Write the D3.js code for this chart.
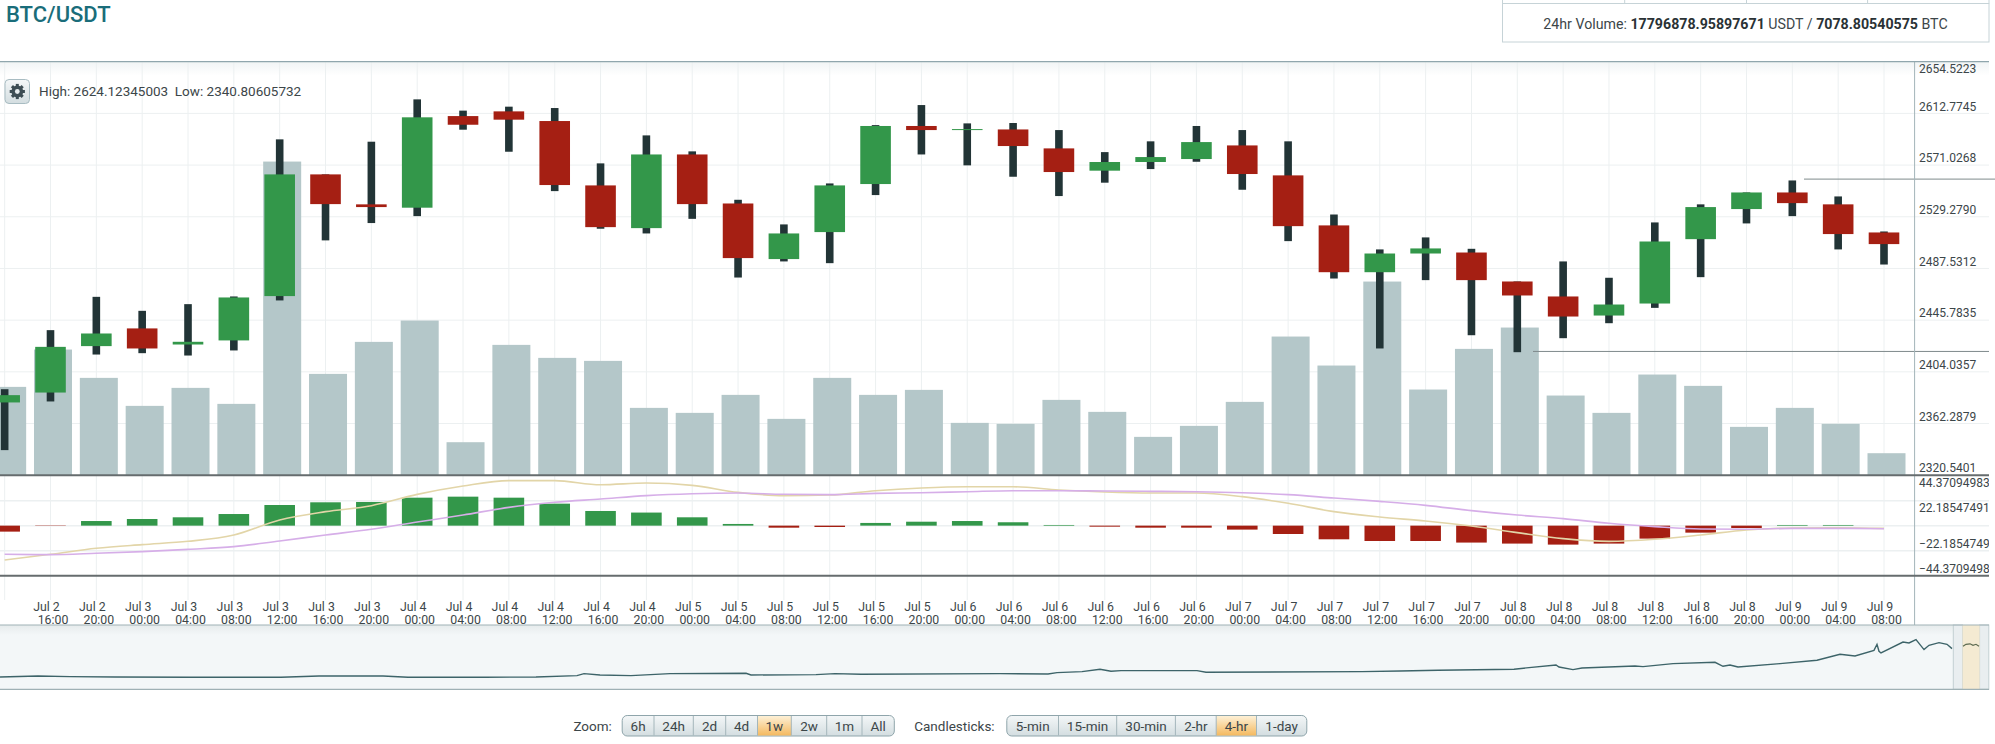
<!DOCTYPE html>
<html>
<head>
<meta charset="utf-8">
<title>BTC/USDT</title>
<script src="https://cdn.jsdelivr.net/npm/d3@7"></script>
<style>
    html, body { margin: 0; padding: 0; background: #fff; overflow: hidden; }
    text { font-family: Roboto, sans-serif; fill: #3c4649; }
    .tick text { font-family: Roboto, sans-serif; fill: #3c4649; }
</style>
</head>
<body>
<div id="chart"></div>
<script>
// candles, one every 4 hours, first one is cut off by the left edge
const days = ["Jul 2","Jul 2","Jul 2",
    "Jul 3","Jul 3","Jul 3","Jul 3","Jul 3","Jul 3",
    "Jul 4","Jul 4","Jul 4","Jul 4","Jul 4","Jul 4",
    "Jul 5","Jul 5","Jul 5","Jul 5","Jul 5","Jul 5",
    "Jul 6","Jul 6","Jul 6","Jul 6","Jul 6","Jul 6",
    "Jul 7","Jul 7","Jul 7","Jul 7","Jul 7","Jul 7",
    "Jul 8","Jul 8","Jul 8","Jul 8","Jul 8","Jul 8",
    "Jul 9","Jul 9","Jul 9"];
const hours = ["12:00","16:00","20:00",
    "00:00","04:00","08:00","12:00","16:00","20:00",
    "00:00","04:00","08:00","12:00","16:00","20:00",
    "00:00","04:00","08:00","12:00","16:00","20:00",
    "00:00","04:00","08:00","12:00","16:00","20:00",
    "00:00","04:00","08:00","12:00","16:00","20:00",
    "00:00","04:00","08:00","12:00","16:00","20:00",
    "00:00","04:00","08:00"];

const opens = [2379.3,2387.3,2424.8,2439.1,2426.1,2429.4,2465.2,2563.5,2539.3,2536.6,2610.6,2614.4,2606.6,2554.6,2520.1,
    2579.6,2540.0,2495.1,2516.9,2555.7,2602.6,2599.3,2599.8,2584.5,2566.5,2573.5,2575.9,2586.9,2562.7,2522.3,2484.5,
    2499.6,2500.4,2477.0,2464.9,2449.5,2459.2,2511.2,2535.5,2548.9,2539.3,2516.6];
const closes = [2385.2,2424.2,2435.0,2422.9,2428.3,2464.1,2563.5,2539.5,2537.1,2609.6,2603.6,2607.7,2554.9,2520.9,2579.6,
    2539.5,2495.9,2515.8,2554.6,2602.6,2599.3,2600.1,2586.4,2565.4,2573.5,2577.5,2589.6,2563.8,2521.7,2484.5,2499.6,
    2503.7,2478.1,2465.7,2448.7,2458.4,2509.3,2537.1,2548.9,2540.3,2515.3,2507.2];
const highs = [2390.0,2437.7,2464.6,2453.3,2458.7,2464.9,2591.8,2563.5,2589.9,2624.1,2615.0,2618.2,2617.1,2572.4,2595.0,
    2582.1,2543.0,2523.1,2556.2,2603.3,2619.5,2604.7,2605.0,2599.3,2581.5,2590.2,2602.6,2599.3,2590.2,2531.1,2502.9,
    2512.6,2503.4,2477.0,2493.2,2480.0,2524.7,2539.3,2548.9,2558.6,2545.7,2517.4];
const lows = [2340.8,2380.1,2418.0,2419.1,2417.2,2421.3,2461.7,2510.2,2524.2,2529.8,2599.6,2581.8,2550.0,2519.6,2515.8,
    2527.6,2480.2,2493.2,2491.8,2546.8,2579.6,2570.8,2561.6,2546.0,2556.8,2567.8,2573.7,2551.1,2509.6,2479.4,2422.9,
    2478.1,2433.6,2419.9,2431.2,2443.3,2455.7,2480.5,2523.9,2529.8,2502.9,2490.7];
const volumes = [26.5,37.7,29.2,20.8,26.2,21.4,94.1,30.4,40.0,46.4,9.9,39.1,35.2,34.3,20.2,
    18.7,24.1,16.9,29.2,24.1,25.6,15.7,15.4,22.6,19.0,11.5,14.8,22.0,41.6,32.9,58.1,
    25.7,37.9,44.3,23.9,18.7,30.2,26.8,14.5,20.2,15.4,6.6];

const macdHist = [-5.3,-0.3,4.1,5.9,7.4,10.3,18.3,20.7,21.0,24.8,25.7,24.8,19.5,13.0,11.6,
    7.4,1.5,-1.8,-1.2,2.4,3.5,4.1,3.0,0.6,-0.9,-1.8,-1.8,-3.5,-7.4,-12.1,-13.6,
    -13.6,-15.0,-15.9,-16.8,-15.9,-11.5,-6.2,-2.1,0.6,0.6,0];
const macdLine = [-30.4,-25.4,-20.1,-16.8,-13.9,-8.3,5.0,12.4,17.7,27.7,35.1,39.9,39.9,36.3,37.8,
    35.7,29.5,26.6,27.2,31.0,33.4,34.5,34.5,31.6,29.8,28.9,28.9,25.7,19.8,12.4,7.7,
    4.1,-0.3,-6.2,-11.5,-13.9,-12.1,-8.3,-3.8,-2.1,-1.8,-2.4];
const signalLine = [-25.4,-25.7,-24.5,-23.0,-21.0,-18.6,-13.6,-8.3,-3.2,3.2,9.4,16.2,20.7,23.6,26.6,
    28.3,28.9,27.8,27.5,28.6,29.2,30.1,31.0,31.0,30.7,30.4,30.1,29.2,27.5,24.5,21.5,
    18.0,13.3,9.4,6.2,2.1,-0.9,-3.0,-3.2,-2.4,-2.4,-2.7];

const priceTicks = [2654.5223,2612.7745,2571.0268,2529.2790,2487.5312,2445.7835,2404.0357,2362.2879,2320.5401];
const macdTicks = [44.37094983,22.18547491,-22.18547491,-44.37094983];
const recentHigh = 2559.7, recentLow = 2420.5;

// navigator: whole history, hours since the start against price
const navHours = [0,76,140,230,382,562,638,766,816,970,1072,1154,1168,1200,1262,1340,1492,1502,1632,1670,1722,2000,
    2096,2114,2164,2200,2222,2242,2394,2412,2724,2800,2876,3028,3058,3112,3118,3146,3164,3270,3286,3346,3430,3446,3460,
    3476,3560,3634,3680,3710,3748,3754,3758,3762,3806,3818,3832,3848,3858,3878,3894,3904];
const navPrices = [965,1015,985,965,950,950,1015,1015,950,950,965,1035,1135,1065,1035,1135,1150,1065,1085,1135,1100,1135,
    1115,1185,1235,1350,1250,1285,1285,1200,1235,1265,1300,1350,1435,1565,1465,1335,1415,1515,1485,1635,1700,1500,1565,
    1465,1635,1800,2100,2015,2300,2600,2250,2165,2715,2665,2835,2335,2550,2685,2600,2385];
const navSelHours = [3926,3932,3940,3946,3952,3958];
const navSelPrices = [2500,2600,2625,2550,2600,2500];

const zoomLabels = ["6h","24h","2d","4d","1w","2w","1m","All"];
const zoomEdges = [622.2,654,693.3,725.7,757.5,791.3,826.7,862,894.3];
const candleLabels = ["5-min","15-min","30-min","2-hr","4-hr","1-day"];
const candleEdges = [1006.8,1058.5,1116.7,1175.4,1216.2,1256.5,1306.8];

const labels = days.map(function (d, i) { return d + " " + hours[i]; });

const width = 1995, height = 744;
const chartRight = 1989, axisX = 1914.6;
const plotTop = 61.7, priceBottom = 475.2, macdBottom = 575.7, timeBottom = 625, navBottom = 689.3;

const svg = d3.select("#chart").append("svg")
    .attr("width", width)
    .attr("height", height)
    .style("display", "block");

const defs = svg.append("defs");

function gradient(id, stops) {
    const g = defs.append("linearGradient").attr("id", id)
        .attr("x1", 0).attr("y1", 0).attr("x2", 0).attr("y2", 1);
    stops.forEach(function (s) {
        g.append("stop").attr("offset", s[0]).attr("stop-color", s[1]);
    });
}
gradient("topShade", [[0, "#f1f4f5"], [1, "#ffffff"]]);
gradient("navShade", [[0, "#e6ebec"], [1, "#f3f7f8"]]);
gradient("btn", [[0, "#f4f7f8"], [1, "#d3dde0"]]);
gradient("btnOn", [[0, "#fdf0d6"], [1, "#f4b95f"]]);

const x = d3.scalePoint().domain(labels).range([4.66, 1884]);
const y = d3.scaleLinear().domain([2320.5401, 2654.5223]).range([priceBottom, plotTop]);
const yVol = d3.scaleLinear().domain([0, 100]).range([priceBottom, priceBottom - 333.3]);
const yMacd = d3.scaleLinear().domain([-44.37094983, 44.37094983]).range([macdBottom, priceBottom + 0.4]);
const xNav = d3.scaleLinear().domain([0, 3990]).range([0, 1995]);
const yNav = d3.scaleLinear().domain([350, 3565]).range([navBottom, timeBottom]);

const bodyW = 30.6, wickW = 7.6, volW = 38, volShift = 2.5;

// Title and the volume box
svg.append("text").attr("x", 6).attr("y", 22)
    .style("font-size", "22px").style("font-weight", 500).style("fill", "#1a6d7a")
    .text("BTC/USDT");

svg.append("rect").attr("x", 1502.5).attr("y", 3.5).attr("width", 486.5).attr("height", 38.5)
    .attr("fill", "#fff").attr("stroke", "#c6d3d7");
[1502.5, 1624.7, 1746.5, 1867.6, 1989].forEach(function (d) {
    svg.append("line").attr("x1", d).attr("x2", d).attr("y1", 0).attr("y2", 3.5).attr("stroke", "#c6d3d7");
});
const volText = svg.append("text").attr("x", 1745.5).attr("y", 29)
    .attr("text-anchor", "middle").style("font-size", "14.2px");
volText.append("tspan").text("24hr Volume: ");
volText.append("tspan").style("font-weight", 700).style("fill", "#2a3235").text("17796878.95897671");
volText.append("tspan").text(" USDT / ");
volText.append("tspan").style("font-weight", 700).style("fill", "#2a3235").text("7078.80540575");
volText.append("tspan").text(" BTC");

// Plot backgrounds
svg.append("rect").attr("x", 0).attr("y", plotTop).attr("width", chartRight).attr("height", 14)
    .attr("fill", "url(#topShade)");

// Grid
const grid = svg.append("g").attr("stroke", "#ecf0f1").attr("stroke-width", 1);
grid.selectAll(".v").data(labels).enter().append("line")
    .attr("x1", function (d) { return x(d); })
    .attr("x2", function (d) { return x(d); })
    .attr("y1", plotTop).attr("y2", 600);
grid.selectAll(".h").data(priceTicks.slice(1)).enter().append("line")
    .attr("x1", 0).attr("x2", chartRight)
    .attr("y1", function (d) { return y(d); })
    .attr("y2", function (d) { return y(d); });
grid.selectAll(".m").data([22.18547491, 0, -22.18547491]).enter().append("line")
    .attr("x1", 0).attr("x2", chartRight)
    .attr("y1", function (d) { return yMacd(d); })
    .attr("y2", function (d) { return yMacd(d); })
    .attr("stroke-width", 1.5);

// Volume bars sit under the candles
svg.append("g").selectAll("rect").data(labels).enter().append("rect")
    .attr("x", function (d) { return x(d) - volW / 2 + volShift; })
    .attr("width", volW)
    .attr("y", function (d, i) { return yVol(volumes[i]); })
    .attr("height", function (d, i) { return priceBottom - yVol(volumes[i]); })
    .attr("fill", "#b4c7c9");

// Candles
const candles = svg.append("g");
candles.selectAll(".wick").data(labels).enter().append("rect")
    .attr("class", "wick")
    .attr("x", function (d) { return x(d) - wickW / 2; })
    .attr("width", wickW)
    .attr("y", function (d, i) { return y(highs[i]); })
    .attr("height", function (d, i) { return y(lows[i]) - y(highs[i]); })
    .attr("fill", "#223436");
candles.selectAll(".body").data(labels).enter().append("rect")
    .attr("class", "body")
    .attr("x", function (d) { return x(d) - bodyW / 2; })
    .attr("width", bodyW)
    .attr("y", function (d, i) { return y(Math.max(opens[i], closes[i])); })
    .attr("height", function (d, i) { return Math.max(1, Math.abs(y(opens[i]) - y(closes[i]))); })
    .attr("fill", function (d, i) { return closes[i] >= opens[i] ? "#33974a" : "#a51f13"; });

// High and low of the last candles
svg.append("line").attr("x1", 1804).attr("x2", 1995)
    .attr("y1", y(recentHigh)).attr("y2", y(recentHigh))
    .attr("stroke", "#7f8a8c").attr("stroke-width", 1);
svg.append("line").attr("x1", 1533).attr("x2", chartRight)
    .attr("y1", y(recentLow)).attr("y2", y(recentLow))
    .attr("stroke", "#7f8a8c").attr("stroke-width", 1);

// MACD pane
svg.append("g").selectAll("rect").data(labels).enter().append("rect")
    .attr("x", function (d) { return x(d) - bodyW / 2; })
    .attr("width", bodyW)
    .attr("y", function (d, i) { return yMacd(Math.max(macdHist[i], 0)); })
    .attr("height", function (d, i) { return Math.abs(yMacd(macdHist[i]) - yMacd(0)); })
    .attr("fill", function (d, i) { return macdHist[i] >= 0 ? "#33974a" : "#a51f13"; });

const macdPath = d3.line()
    .x(function (d, i) { return x(labels[i]); })
    .y(function (d) { return yMacd(d); })
    .curve(d3.curveMonotoneX);
svg.append("path").datum(macdLine)
    .attr("fill", "none").attr("stroke", "#e2d5a8").attr("stroke-width", 1.6)
    .attr("d", macdPath);
svg.append("path").datum(signalLine)
    .attr("fill", "none").attr("stroke", "#d6aee8").attr("stroke-width", 1.6)
    .attr("d", macdPath);

// Axis lines and pane borders
svg.append("line").attr("x1", axisX).attr("x2", axisX).attr("y1", plotTop).attr("y2", timeBottom)
    .attr("stroke", "#a3b4b9");
svg.append("line").attr("x1", 0).attr("x2", chartRight).attr("y1", plotTop).attr("y2", plotTop)
    .attr("stroke", "#90a6ad").attr("stroke-width", 1.2);
[priceBottom, macdBottom].forEach(function (d) {
    svg.append("line").attr("x1", 0).attr("x2", chartRight).attr("y1", d).attr("y2", d)
        .attr("stroke", "#666c6e").attr("stroke-width", 2);
});

// Price axis
const priceAxis = svg.append("g")
    .attr("transform", "translate(" + axisX + ",0)")
    .call(d3.axisRight(y).tickValues(priceTicks).tickFormat(d3.format(".4f")).tickSize(0).tickPadding(4.5));
priceAxis.select(".domain").remove();
priceAxis.selectAll("text")
    .style("font-size", "12px")
    .attr("dy", function (d) { return d === priceTicks[0] ? "0.9em" : "-0.27em"; });

// MACD axis, labels are cut by the chart edge
defs.append("clipPath").attr("id", "macdAxisClip")
    .append("rect").attr("x", 0).attr("y", 0).attr("width", chartRight - axisX).attr("height", height);
const macdAxis = svg.append("g")
    .attr("transform", "translate(" + axisX + ",0)")
    .attr("clip-path", "url(#macdAxisClip)")
    .call(d3.axisRight(yMacd).tickValues(macdTicks).tickFormat(d3.format(".8f")).tickSize(0).tickPadding(4.5));
macdAxis.select(".domain").remove();
macdAxis.selectAll("text")
    .style("font-size", "12px")
    .attr("dy", function (d) { return d > 0 ? "0.9em" : "-0.27em"; });

// Time axis, two lines per tick. The first candle has no room for a label
const timeAxis = svg.append("g")
    .attr("transform", "translate(0," + macdBottom + ")")
    .call(d3.axisBottom(x).tickValues(labels.slice(1)).tickFormat("").tickSize(0));
timeAxis.select(".domain").remove();
timeAxis.selectAll(".tick text").each(function (d) {
    const parts = d.split(" ");
    const t = d3.select(this).attr("y", 0).attr("dy", 0).style("font-size", "12.3px");
    t.append("tspan").attr("x", -4.5).attr("y", 35.5).text(parts[0] + " " + parts[1]);
    t.append("tspan").attr("x", 2).attr("y", 48).text(parts[2]);
});

// Navigator
svg.append("rect").attr("x", 0).attr("y", timeBottom).attr("width", chartRight).attr("height", navBottom - timeBottom)
    .attr("fill", "#f3f7f8");
svg.append("rect").attr("x", 0).attr("y", timeBottom).attr("width", chartRight).attr("height", 10)
    .attr("fill", "url(#navShade)");
svg.append("rect").attr("x", 1953.3).attr("y", timeBottom).attr("width", 9.2).attr("height", navBottom - timeBottom)
    .attr("fill", "#e9eef0").attr("stroke", "#c4d0d3");
svg.append("rect").attr("x", 1979.6).attr("y", timeBottom).attr("width", 9.2).attr("height", navBottom - timeBottom)
    .attr("fill", "#e9eef0").attr("stroke", "#c4d0d3");
svg.append("rect").attr("x", 1962.5).attr("y", timeBottom).attr("width", 17.1).attr("height", navBottom - timeBottom)
    .attr("fill", "#f4ead2");
const navLine = d3.line()
    .x(function (d) { return xNav(d[0]); })
    .y(function (d) { return yNav(d[1]); });
svg.append("path").datum(navHours.map(function (d, i) { return [d, navPrices[i]]; }))
    .attr("fill", "none").attr("stroke", "#3d6469").attr("stroke-width", 1.4)
    .attr("d", navLine);
svg.append("path").datum(navSelHours.map(function (d, i) { return [d, navSelPrices[i]]; }))
    .attr("fill", "none").attr("stroke", "#5c6a50").attr("stroke-width", 1.2)
    .attr("d", navLine);
[timeBottom, navBottom].forEach(function (d) {
    svg.append("line").attr("x1", 0).attr("x2", chartRight).attr("y1", d).attr("y2", d)
        .attr("stroke", "#9fb1b5").attr("stroke-width", 1.2);
});

// Settings button and the high / low readout
const gear = svg.append("g");
gear.append("rect").attr("x", 5).attr("y", 79.5).attr("width", 24.5).attr("height", 24).attr("rx", 4)
    .attr("fill", "url(#btn)").attr("stroke", "#a8bcc2");
const gearIcon = gear.append("g").attr("transform", "translate(17.3,91.5)");
d3.range(4).forEach(function (i) {
    gearIcon.append("rect").attr("x", -1.5).attr("y", -7.6).attr("width", 3).attr("height", 15.2)
        .attr("fill", "#3d4d54").attr("transform", "rotate(" + i * 45 + ")");
});
gearIcon.append("circle").attr("r", 4.2).attr("fill", "none").attr("stroke", "#3d4d54").attr("stroke-width", 3.4);
gearIcon.append("circle").attr("r", 2.4).attr("fill", "#e6ecee");

svg.append("text").attr("x", 39).attr("y", 96)
    .style("font-size", "13.5px").style("white-space", "pre")
    .text("High: 2624.12345003  Low: 2340.80605732");

// Bottom button bars
function buttonBar(names, edges, active) {
    const g = svg.append("g");
    g.append("rect").attr("x", edges[0]).attr("y", 715.5)
        .attr("width", edges[edges.length - 1] - edges[0]).attr("height", 20.5).attr("rx", 5)
        .attr("fill", "url(#btn)").attr("stroke", "#8fa5ab");
    names.forEach(function (name, i) {
        if (name === active) {
            g.append("rect").attr("x", edges[i]).attr("y", 716).attr("width", edges[i + 1] - edges[i]).attr("height", 19.5)
                .attr("fill", "url(#btnOn)");
        }
        if (i > 0) {
            g.append("line").attr("x1", edges[i]).attr("x2", edges[i]).attr("y1", 716).attr("y2", 735.5)
                .attr("stroke", "#a4b6bb");
        }
        g.append("text").attr("x", (edges[i] + edges[i + 1]) / 2).attr("y", 730.5)
            .attr("text-anchor", "middle").style("font-size", "13.5px").text(name);
    });
}
buttonBar(zoomLabels, zoomEdges, "1w");
buttonBar(candleLabels, candleEdges, "4-hr");
svg.append("text").attr("x", 573.4).attr("y", 730.5).style("font-size", "13.5px").text("Zoom:");
svg.append("text").attr("x", 914.2).attr("y", 730.5).style("font-size", "13.5px").text("Candlesticks:");
</script>
</body>
</html>
